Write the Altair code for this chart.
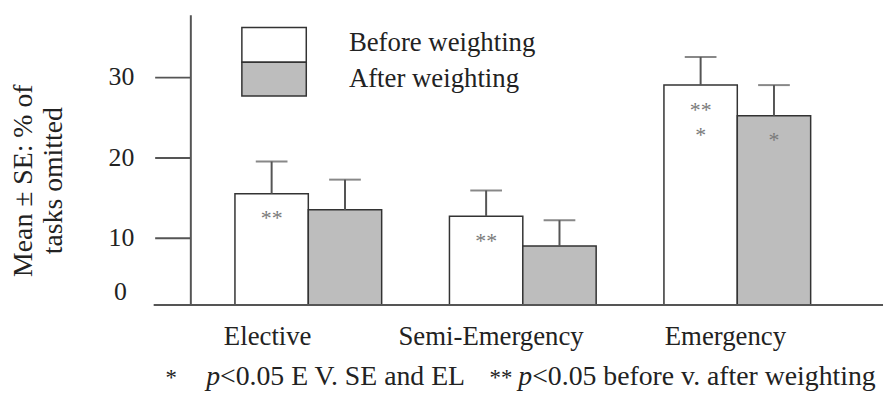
import altair as alt
import pandas as pd

# ---- data ----
categories = ["Elective", "Semi-Emergency", "Emergency"]
series = ["Before weighting", "After weighting"]
before_mean = [15.5, 12.7, 29.0]
before_se = [4.0, 3.2, 3.5]
after_mean = [13.5, 9.0, 25.2]
after_se = [3.75, 3.2, 3.8]
before_marks = ["**", "**", "**\n*"]
after_marks = ["", "", "*"]
y_ticks = [10, 20, 30]
y_title = ["Mean \u00b1 SE: % of", "tasks omitted"]
foot_1 = ["*", "p", "<0.05 E V. SE and EL"]
foot_2 = ["**", "p", "<0.05 before v. after weighting"]

rows = []
for i, c in enumerate(categories):
    rows.append(dict(cat=c, series=series[0], mean=before_mean[i],
                     upper=before_mean[i] + before_se[i], note=before_marks[i]))
    rows.append(dict(cat=c, series=series[1], mean=after_mean[i],
                     upper=after_mean[i] + after_se[i], note=after_marks[i]))
df = pd.DataFrame(rows)
one = pd.DataFrame({"k": [0]})

W, H = 671, 293
BASE, TOP = 1.66, 37.75
SERIF = "Liberation Serif"
INK = "#222222"
LINE = "#555555"
fills = ["#ffffff", "#bdbdbd"]

label_shift = {
    "condition": [
        {"test": "datum.value == 'Elective'", "value": -41},
        {"test": "datum.value == 'Semi-Emergency'", "value": -32},
    ],
    "value": -12,
}

x_enc = alt.X("cat:N", sort=categories,
              scale=alt.Scale(paddingInner=0.316, paddingOuter=0.208),
              axis=alt.Axis(title=None, ticks=False, tickSize=0, domain=False,
                            labelAngle=0, labelFont=SERIF, labelFontSize=27,
                            labelColor=INK, labelPadding=19, labelLimit=400,
                            labelOffset=label_shift))
xo_enc = alt.XOffset("series:N", sort=series,
                     scale=alt.Scale(paddingInner=0, paddingOuter=0))
y_axis = alt.Axis(values=y_ticks, grid=False, tickSize=36, tickWidth=2,
                  tickColor=LINE, domainColor=LINE, domainWidth=2,
                  labelFont=SERIF, labelFontSize=26, labelColor=INK,
                  labelPadding=21, title=y_title, titleFont=SERIF,
                  titleFontSize=28, titleFontWeight="normal", titleColor=INK,
                  titleAngle=270, titleX=-168, titleY=167, titleAlign="center",
                  titleBaseline="middle", titleLineHeight=30)
y_scale = alt.Scale(domain=[BASE, TOP], zero=False, nice=False)

base = alt.Chart(df)

bars = base.mark_bar(stroke="#333333", strokeWidth=1.5).encode(
    x=x_enc, xOffset=xo_enc,
    y=alt.Y("mean:Q", scale=y_scale, axis=y_axis),
    y2=alt.datum(BASE),
    fill=alt.Fill("series:N", scale=alt.Scale(domain=series, range=fills), legend=None),
)
err = base.mark_rule(color=LINE, strokeWidth=2).encode(
    x=x_enc, xOffset=xo_enc,
    y=alt.Y("mean:Q", scale=y_scale, axis=y_axis),
    y2="upper:Q",
)
caps = base.mark_tick(color=LINE, thickness=2, size=32).encode(
    x=x_enc, xOffset=xo_enc,
    y=alt.Y("upper:Q", scale=y_scale, axis=y_axis),
)
notes = base.mark_text(font=SERIF, fontSize=22, color="#7a7a7a", baseline="top",
                       dy=15, lineBreak="\n", lineHeight=25).encode(
    x=x_enc, xOffset=xo_enc,
    y=alt.Y("mean:Q", scale=y_scale, axis=y_axis),
    text="note:N",
)

baseline_rule = alt.Chart(one).mark_rule(color=LINE, strokeWidth=2).encode(
    x=alt.value(-37), x2=alt.value(699), y=alt.value(H))
zero_label = alt.Chart(one).mark_text(text="0", font=SERIF, fontSize=26, color=INK,
                                      align="right", baseline="middle").encode(
    x=alt.value(-64), y=alt.value(280))

leg_before = alt.Chart(one).mark_rect(fill=fills[0], stroke="#333333", strokeWidth=1.5).encode(
    x=alt.value(52), x2=alt.value(117), y=alt.value(13), y2=alt.value(48))
leg_after = alt.Chart(one).mark_rect(fill=fills[1], stroke="#333333", strokeWidth=1.5).encode(
    x=alt.value(52), x2=alt.value(117), y=alt.value(48), y2=alt.value(82))
leg_t1 = alt.Chart(one).mark_text(text=series[0], font=SERIF, fontSize=27, color=INK,
                                  align="left", baseline="middle").encode(
    x=alt.value(160), y=alt.value(29))
leg_t2 = alt.Chart(one).mark_text(text=series[1], font=SERIF, fontSize=27, color=INK,
                                  align="left", baseline="middle").encode(
    x=alt.value(160), y=alt.value(65))


def foot(parts, xs):
    layers = []
    for t, xv in zip(parts, xs):
        style = "italic" if t == "p" else "normal"
        size = 23 if t.startswith("*") else 28
        layers.append(alt.Chart(one).mark_text(text=t, font=SERIF, fontSize=size, color=INK,
                                               fontStyle=style, align="left",
                                               baseline="alphabetic").encode(
            x=alt.value(xv), y=alt.value(374)))
    return layers


foot_layers = foot(foot_1, [-25, 16, 30]) + foot(foot_2, [302, 331, 345])

chart = alt.layer(
    bars, err, caps, notes, baseline_rule, zero_label,
    leg_before, leg_after, leg_t1, leg_t2, *foot_layers
).properties(
    width=W, height=H,
    autosize=alt.AutoSizeParams(type="none"),
    padding={"left": 184, "top": 5, "right": 30, "bottom": 89},
).configure(background="white").configure_view(strokeWidth=0, stroke="transparent")

chart.save("out.html", embed_options={"renderer": "svg", "actions": False})
